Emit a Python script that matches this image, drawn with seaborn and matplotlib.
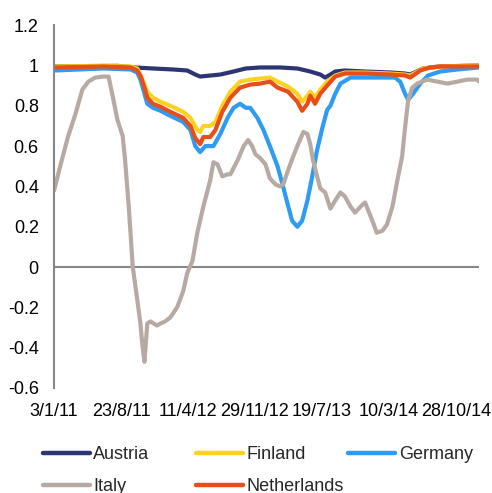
import numpy as np
import pandas as pd
import matplotlib
matplotlib.use("Agg")
import matplotlib.pyplot as plt
import seaborn as sns
from matplotlib.lines import Line2D

# values
austria_dates = ["2011-01-03", "2011-05-01", "2011-08-10", "2011-10-11", "2011-12-12", "2012-02-20",
                 "2012-04-08", "2012-05-06", "2012-05-23", "2012-06-27", "2012-08-01", "2012-09-15",
                 "2012-10-27", "2012-12-18", "2013-02-25", "2013-04-25", "2013-06-09", "2013-07-14",
                 "2013-07-31", "2013-08-17", "2013-09-04", "2013-10-08", "2013-12-17", "2014-03-14",
                 "2014-05-05", "2014-05-22", "2014-07-06", "2014-09-03", "2015-01-16"]
austria = [0.995, 0.997, 0.998, 0.99, 0.985, 0.98, 0.975, 0.955, 0.945, 0.95, 0.955, 0.97,
           0.985, 0.99, 0.99, 0.985, 0.97, 0.955, 0.94, 0.955, 0.97, 0.975, 0.97, 0.965,
           0.96, 0.955, 0.985, 0.995, 1.0]

finland_dates = ["2011-01-03", "2011-06-22", "2011-09-24", "2011-10-18", "2011-11-04", "2011-11-22",
                 "2011-12-12", "2012-01-06", "2012-02-09", "2012-03-25", "2012-04-19", "2012-05-13",
                 "2012-05-23", "2012-06-03", "2012-06-27", "2012-07-15", "2012-08-08", "2012-09-05",
                 "2012-10-09", "2012-11-13", "2012-12-18", "2013-01-21", "2013-02-15", "2013-03-25",
                 "2013-04-25", "2013-05-12", "2013-05-30", "2013-06-09", "2013-06-26", "2013-07-14",
                 "2013-08-07", "2013-09-04", "2013-10-08", "2013-12-17", "2014-03-14", "2014-05-05",
                 "2014-05-22", "2014-07-06", "2014-09-03", "2015-01-16"]
finland = [0.995, 0.998, 0.995, 0.985, 0.93, 0.87, 0.84, 0.82, 0.80, 0.77, 0.74, 0.68,
           0.67, 0.70, 0.70, 0.72, 0.80, 0.87, 0.92, 0.93, 0.935, 0.94, 0.92, 0.895,
           0.86, 0.82, 0.85, 0.87, 0.84, 0.88, 0.92, 0.95, 0.965, 0.965, 0.96, 0.955,
           0.95, 0.985, 0.995, 1.0]

germany_dates = ["2011-01-03", "2011-06-22", "2011-09-24", "2011-10-18", "2011-10-28", "2011-11-11",
                 "2011-11-22", "2011-12-12", "2012-01-06", "2012-02-09", "2012-03-25", "2012-04-19",
                 "2012-05-06", "2012-05-23", "2012-06-10", "2012-07-08", "2012-08-01", "2012-08-25",
                 "2012-09-15", "2012-10-09", "2012-10-27", "2012-11-13", "2012-12-07", "2012-12-28",
                 "2013-01-21", "2013-02-15", "2013-03-04", "2013-03-21", "2013-04-08", "2013-04-25",
                 "2013-05-12", "2013-05-30", "2013-06-16", "2013-07-03", "2013-07-21", "2013-08-07",
                 "2013-08-17", "2013-09-04", "2013-09-21", "2013-10-26", "2014-01-27", "2014-03-31",
                 "2014-04-17", "2014-05-05", "2014-05-15", "2014-06-01", "2014-06-26", "2014-07-23",
                 "2014-09-03", "2014-11-01", "2015-01-16"]
germany = [0.975, 0.985, 0.98, 0.965, 0.93, 0.86, 0.81, 0.79, 0.775, 0.75, 0.72, 0.68,
           0.60, 0.57, 0.60, 0.60, 0.66, 0.74, 0.79, 0.81, 0.79, 0.79, 0.74, 0.68,
           0.60, 0.50, 0.42, 0.32, 0.23, 0.20, 0.23, 0.33, 0.45, 0.58, 0.69, 0.78,
           0.80, 0.86, 0.91, 0.94, 0.94, 0.94, 0.92, 0.86, 0.83, 0.86, 0.91, 0.95,
           0.97, 0.98, 0.99]

italy_dates = ["2011-01-03", "2011-01-24", "2011-02-21", "2011-03-17", "2011-04-10", "2011-05-01",
               "2011-05-25", "2011-06-22", "2011-07-09", "2011-07-27", "2011-08-10", "2011-08-27",
               "2011-09-06", "2011-09-17", "2011-10-01", "2011-10-18", "2011-10-28", "2011-11-04",
               "2011-11-11", "2011-11-22", "2011-12-02", "2011-12-26", "2012-01-06", "2012-01-23",
               "2012-02-09", "2012-03-05", "2012-03-25", "2012-04-08", "2012-04-26", "2012-05-13",
               "2012-06-03", "2012-06-27", "2012-07-08", "2012-07-21", "2012-08-08", "2012-08-25",
               "2012-09-05", "2012-09-29", "2012-10-20", "2012-11-06", "2012-11-20", "2012-11-30",
               "2012-12-18", "2013-01-04", "2013-01-21", "2013-02-08", "2013-02-25", "2013-03-07",
               "2013-03-25", "2013-04-11", "2013-04-28", "2013-05-16", "2013-05-30", "2013-06-09",
               "2013-06-19", "2013-07-03", "2013-07-14", "2013-07-31", "2013-08-17", "2013-09-04",
               "2013-09-21", "2013-10-08", "2013-10-26", "2013-11-12", "2013-11-30", "2013-12-17",
               "2013-12-27", "2014-01-14", "2014-01-27", "2014-02-14", "2014-03-03", "2014-03-21",
               "2014-04-07", "2014-04-24", "2014-05-05", "2014-05-15", "2014-05-29", "2014-06-15",
               "2014-07-20", "2014-08-24", "2014-09-27", "2014-11-01", "2014-12-06", "2015-01-09",
               "2015-01-16"]
italy = [0.38, 0.50, 0.65, 0.76, 0.88, 0.92, 0.94, 0.945, 0.945, 0.83, 0.73, 0.65,
         0.53, 0.30, 0.0, -0.16, -0.28, -0.39, -0.47, -0.28, -0.27, -0.29, -0.28, -0.27,
         -0.25, -0.20, -0.12, -0.03, 0.03, 0.17, 0.30, 0.43, 0.52, 0.51, 0.45, 0.46,
         0.46, 0.53, 0.60, 0.63, 0.60, 0.56, 0.54, 0.51, 0.44, 0.41, 0.40, 0.41,
         0.48, 0.55, 0.61, 0.67, 0.66, 0.61, 0.53, 0.45, 0.39, 0.37, 0.29, 0.33,
         0.37, 0.35, 0.30, 0.27, 0.30, 0.32, 0.28, 0.22, 0.17, 0.18, 0.21, 0.30,
         0.42, 0.55, 0.69, 0.83, 0.89, 0.91, 0.93, 0.92, 0.91, 0.92, 0.93, 0.93,
         0.92]

netherlands_dates = ["2011-01-03", "2011-06-22", "2011-09-24", "2011-10-18", "2011-10-28", "2011-11-11",
                     "2011-11-22", "2011-12-12", "2012-01-06", "2012-02-09", "2012-03-25", "2012-04-19",
                     "2012-05-06", "2012-05-23", "2012-06-03", "2012-06-27", "2012-07-15", "2012-08-08",
                     "2012-09-05", "2012-10-09", "2012-11-13", "2012-12-18", "2013-01-21", "2013-02-15",
                     "2013-03-25", "2013-04-25", "2013-05-12", "2013-05-30", "2013-06-09", "2013-06-26",
                     "2013-07-14", "2013-08-07", "2013-09-04", "2013-10-08", "2013-12-17", "2014-03-14",
                     "2014-05-05", "2014-05-22", "2014-06-26", "2014-07-30", "2014-09-03", "2015-01-16"]
netherlands = [0.99, 0.995, 0.99, 0.975, 0.95, 0.89, 0.84, 0.81, 0.795, 0.77, 0.74, 0.70,
               0.64, 0.61, 0.645, 0.645, 0.68, 0.77, 0.84, 0.89, 0.905, 0.91, 0.92, 0.89,
               0.87, 0.82, 0.775, 0.81, 0.85, 0.81, 0.86, 0.90, 0.945, 0.96, 0.96, 0.955,
               0.95, 0.94, 0.975, 0.99, 0.995, 0.995]

countries = ["Austria", "Finland", "Germany", "Italy", "Netherlands"]
colors = ["#2e3573", "#ffd21f", "#2e9bf4", "#b7aaa3", "#e84e1b"]
start, end = "2011-01-03", "2015-01-16"
tick_every = 166  # business days between labels

series = {
    "Austria": (austria_dates, austria),
    "Finland": (finland_dates, finland),
    "Germany": (germany_dates, germany),
    "Italy": (italy_dates, italy),
    "Netherlands": (netherlands_dates, netherlands),
}

rows = []
for name, (d, v) in series.items():
    days = pd.to_datetime(d).values.astype("datetime64[D]")
    pos = np.busday_count(np.datetime64(start), days)
    rows.append(pd.DataFrame({"pos": pos, "value": v, "country": name}))
df = pd.concat(rows, ignore_index=True)

bdays = pd.bdate_range(start, end)

sns.set_style("white")
plt.rcParams["font.family"] = ["Liberation Sans", "DejaVu Sans"]

fig = plt.figure(figsize=(4.92, 4.93), dpi=100)
ax = fig.add_axes([0.110, 0.213, 0.864, 0.736])

palette = dict(zip(countries, colors))
sns.lineplot(data=df, x="pos", y="value", hue="country", hue_order=countries,
             palette=palette, linewidth=3.0, sort=False, legend=False, ax=ax)

ax.axhline(0, color="#878787", lw=1.5, zorder=0)
ax.set_xlim(0, len(bdays) - 1)
ax.set_ylim(-0.6, 1.2)
yt = np.round(np.arange(-0.6, 1.21, 0.2), 1)
ax.set_yticks(yt)
ax.set_yticklabels([f"{t:g}" for t in yt])
xt = np.arange(0, len(bdays), tick_every)
ax.set_xticks(xt)
ax.set_xticklabels([f"{d.day}/{d.month}/{d.strftime('%y')}" for d in bdays[xt]])
ax.tick_params(axis="both", length=0, labelsize=13, colors="#000000")
ax.tick_params(axis="y", pad=11)
ax.tick_params(axis="x", pad=11)
ax.set_xlabel("")
ax.set_ylabel("")
for s in ["top", "right", "bottom"]:
    ax.spines[s].set_visible(False)
ax.spines["left"].set_color("#878787")
ax.spines["left"].set_linewidth(1.5)
ax.grid(False)

# legend laid out in three columns like the original
def handle(c):
    return Line2D([], [], color=c, lw=3.2)

columns = [(["Austria", "Italy"], 0.087), (["Finland", "Netherlands"], 0.398), (["Germany"], 0.708)]
for names, xpos in columns:
    fig.legend([handle(palette[n]) for n in names], names, loc="upper left",
               bbox_to_anchor=(xpos, 0.095), frameon=False, fontsize=13,
               handlelength=2.6, handletextpad=0.2, borderpad=0, borderaxespad=0,
               labelspacing=0.82)

fig.savefig("out.png", dpi=100)
